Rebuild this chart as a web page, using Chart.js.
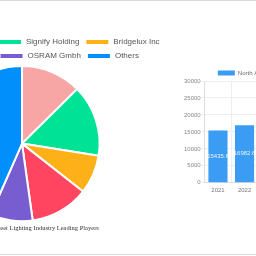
<!DOCTYPE html>
<html>
<head>
<meta charset="utf-8">
<script src="https://cdn.jsdelivr.net/npm/chart.js@4.4.1/dist/chart.umd.min.js"></script>
<style>
    html, body { margin: 0; padding: 0; width: 256px; height: 256px; overflow: hidden; background: #fff; }
    .rule { position: absolute; left: 0; width: 256px; height: 1px; background: #d9d9d9; }
    #pieWrap { position: absolute; left: -138px; top: 32px; width: 320px; height: 204px; }
    #barWrap { position: absolute; left: 183px; top: 62px; width: 132px; height: 138px; }
</style>
</head>
<body>
<div class="rule" style="top:0"></div>
<div class="rule" style="top:254px"></div>
<div id="pieWrap"><canvas id="playersChart"></canvas></div>
<div id="barWrap"><canvas id="regionChart"></canvas></div>
<script>
// Leading players share (pie)
const playerNames = ['Acuity Brands Lighting', 'Signify Holding', 'Bridgelux Inc', 'Cree Lighting Inc', 'OSRAM Gmbh', 'Others'];
const playerShares = [12.6, 14.9, 8.1, 12.2, 8.8, 43.4];
const playerColors = ['#F8A5A6', '#00E396', '#FEB019', '#FF4560', '#775DD0', '#008FFB'];

// North America market size (bar)
const years = ['2021', '2022', '2023', '2024'];
const northAmerica = [15435.6, 16982.6, 18690.2, 20570.8];
const yTicks = [0, 5000, 10000, 15000, 20000, 25000, 30000];

const sansFont = 'Liberation Sans, Arial, sans-serif';

document.addEventListener('DOMContentLoaded', () => {
    initPlayersChart();
    initRegionChart();
});

// shrink a legend's reserved height so the plot sits closer to it
function legendTrim(px) {
    return {
        id: 'legendTrim',
        beforeInit(chart) {
            const fit = chart.legend.fit;
            chart.legend.fit = function() {
                fit.bind(chart.legend)();
                this.height -= px;
            };
        }
    };
}

/**
 * Pie chart of leading players
 */
function initPlayersChart() {
    const ctx = document.getElementById('playersChart');
    new Chart(ctx, {
        type: 'pie',
        data: {
            labels: playerNames,
            datasets: [{
                data: playerShares,
                backgroundColor: playerColors,
                borderColor: '#fff',
                borderWidth: 2
            }]
        },
        options: {
            responsive: true,
            maintainAspectRatio: false,
            animation: false,
            layout: { padding: 0 },
            plugins: {
                legend: {
                    position: 'top',
                    labels: {
                        boxWidth: 24,
                        boxHeight: 6,
                        padding: 6,
                        color: '#555',
                        font: { family: sansFont, size: 8 }
                    }
                },
                title: {
                    display: true,
                    position: 'bottom',
                    text: 'Worldwide Smart Street Lighting Industry Leading Players',
                    color: '#333',
                    padding: { top: 2, bottom: 4 },
                    font: { family: 'Liberation Serif, Times New Roman, serif', size: 6.5, weight: 'normal' }
                },
                tooltip: { enabled: false }
            }
        },
        plugins: [legendTrim(5)]
    });
}

/**
 * Draw each bar's value in the middle of the bar
 */
const barValueLabels = {
    id: 'barValueLabels',
    afterDatasetsDraw(chart) {
        const ctx = chart.ctx;
        const meta = chart.getDatasetMeta(0);
        ctx.save();
        ctx.fillStyle = 'rgba(255,255,255,0.9)';
        ctx.font = '6px ' + sansFont;
        ctx.textAlign = 'center';
        ctx.textBaseline = 'middle';
        meta.data.forEach((bar, i) => {
            const value = chart.data.datasets[0].data[i];
            ctx.fillText(value.toFixed(1), bar.x, (bar.y + bar.base) / 2);
        });
        ctx.restore();
    }
};

/**
 * Bar chart of North America values
 */
function initRegionChart() {
    const ctx = document.getElementById('regionChart');
    new Chart(ctx, {
        type: 'bar',
        data: {
            labels: years,
            datasets: [{
                label: 'North America',
                data: northAmerica,
                backgroundColor: '#3A9CF3',
                borderWidth: 0
            }]
        },
        options: {
            responsive: true,
            maintainAspectRatio: false,
            animation: false,
            layout: { padding: { bottom: 2, right: 4 } },
            plugins: {
                legend: {
                    position: 'top',
                    labels: {
                        boxWidth: 17,
                        boxHeight: 5,
                        padding: 8,
                        color: '#666',
                        font: { family: sansFont, size: 6 }
                    }
                },
                tooltip: { enabled: false }
            },
            scales: {
                x: {
                    grid: { color: '#eeeeee', drawTicks: false },
                    border: { color: '#dddddd' },
                    ticks: { color: '#777', padding: 4, font: { family: sansFont, size: 6 } }
                },
                y: {
                    min: 0,
                    max: 30000,
                    afterBuildTicks(axis) {
                        axis.ticks = yTicks.map(v => ({ value: v }));
                    },
                    grid: { color: '#eeeeee', tickLength: 3 },
                    border: { color: '#dddddd' },
                    ticks: {
                        color: '#888',
                        padding: 1,
                        font: { family: sansFont, size: 6 },
                        callback: value => String(value)
                    }
                }
            }
        },
        plugins: [barValueLabels, legendTrim(5)]
    });
}
</script>
</body>
</html>
